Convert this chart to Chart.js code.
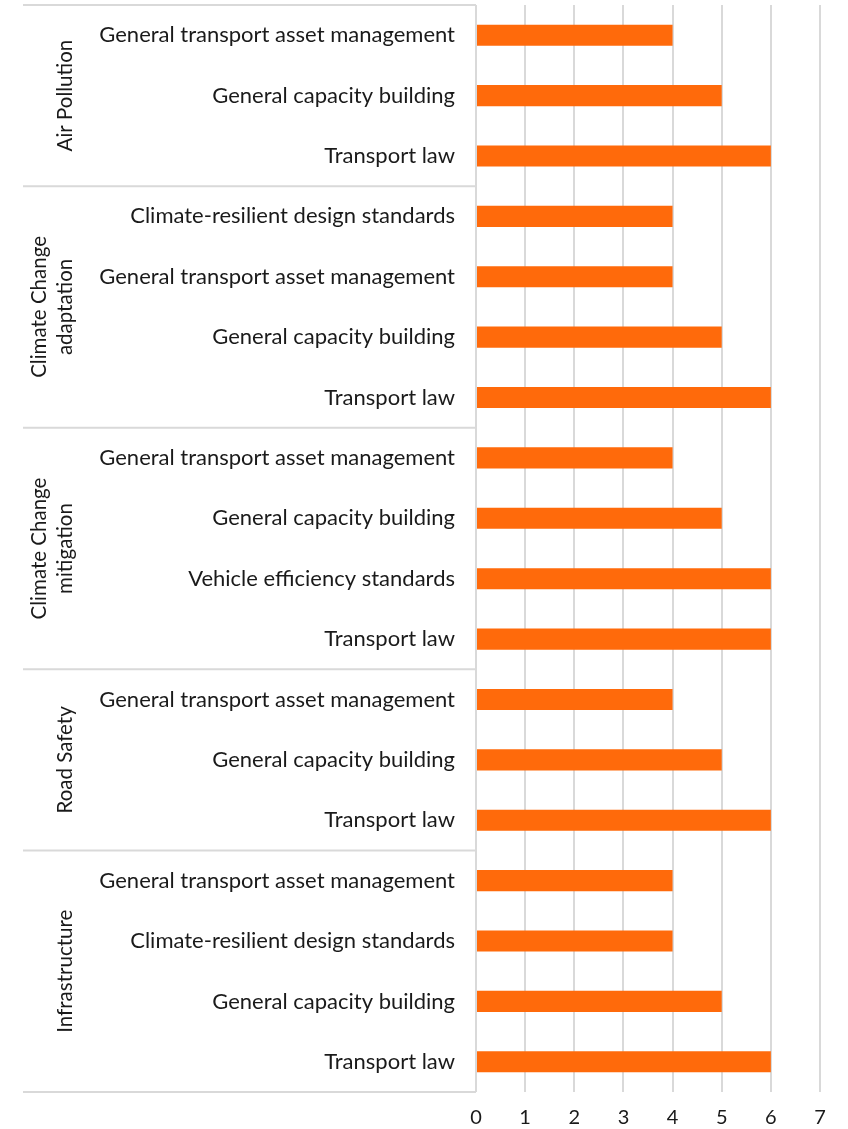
<!DOCTYPE html>
<html>
<head>
<meta charset="utf-8">
<script src="https://cdn.jsdelivr.net/npm/chart.js@4"></script>
<style>
html,body{margin:0;padding:0;background:#fff;}
canvas{display:block;}
</style>
</head>
<body>
<canvas id="c" width="848" height="1129"></canvas>
<script>
const groupLabels = [['Air Pollution'], ['Climate Change','adaptation'], ['Climate Change','mitigation'], ['Road Safety'], ['Infrastructure']];
const groupSizes = [3, 4, 4, 3, 4];
const categories = [
  'General transport asset management','General capacity building','Transport law',
  'Climate-resilient design standards','General transport asset management','General capacity building','Transport law',
  'General transport asset management','General capacity building','Vehicle efficiency standards','Transport law',
  'General transport asset management','General capacity building','Transport law',
  'General transport asset management','Climate-resilient design standards','General capacity building','Transport law'
];
const values = [4,5,6, 4,4,5,6, 4,5,6,6, 4,5,6, 4,4,5,6];
const xTicks = [0,1,2,3,4,5,6,7];

const FONT = 'Lato, "DejaVu Sans", sans-serif';
const LINE = '#d9d9d9';

const groupPlugin = {
  id: 'groups',
  afterDraw(chart) {
    const ctx = chart.ctx;
    const y = chart.scales.y;
    const area = chart.chartArea;
    const n = categories.length;
    const step = (area.bottom - area.top) / n;
    ctx.save();
    ctx.strokeStyle = LINE;
    ctx.lineWidth = 2;
    let idx = 0;
    const bounds = [0];
    groupSizes.forEach(s => { idx += s; bounds.push(idx); });
    bounds.forEach(b => {
      const py = b === n ? area.bottom : (y.getPixelForValue(b) - step / 2);
      ctx.beginPath();
      ctx.moveTo(23, py);
      ctx.lineTo(area.left, py);
      ctx.stroke();
    });
    ctx.fillStyle = '#1a1a1a';
    ctx.font = '20.5px ' + FONT;
    ctx.textAlign = 'center';
    ctx.textBaseline = 'middle';
    for (let g = 0; g < groupLabels.length; g++) {
      const a = y.getPixelForValue(bounds[g]) - step / 2;
      const b = y.getPixelForValue(bounds[g + 1] - 1) + step / 2;
      const cy = (a + b) / 2;
      const lines = groupLabels[g];
      lines.forEach((t, i) => {
        const cx = 65 - (lines.length - 1 - i) * 26;
        ctx.save();
        ctx.translate(cx, cy);
        ctx.rotate(-Math.PI / 2);
        ctx.fillText(t, 0, 0);
        ctx.restore();
      });
    }
    ctx.restore();
  }
};

new Chart(document.getElementById('c'), {
  type: 'bar',
  data: {
    labels: categories,
    datasets: [{
      data: values,
      backgroundColor: '#ff6a0b',
      borderWidth: 0,
      barPercentage: 0.35,
      categoryPercentage: 1
    }]
  },
  options: {
    indexAxis: 'y',
    responsive: false,
    animation: false,
    layout: { padding: { top: 5, right: 28, bottom: 0, left: 0 } },
    plugins: { legend: { display: false }, tooltip: { enabled: false } },
    scales: {
      x: {
        min: 0, max: 7,
        afterBuildTicks(s) { s.ticks = xTicks.map(v => ({ value: v })); },
        grid: { color: LINE, lineWidth: 2, drawTicks: false },
        border: { display: false },
        ticks: { color: '#1a1a1a', font: { family: FONT, size: 20 }, padding: 14 },
        afterFit(s) { s.height = 37; s.paddingLeft = 0; s.paddingRight = 0; s.paddingTop = 0; s.paddingBottom = 0; }
      },
      y: {
        grid: { display: false, drawTicks: false },
        border: { display: false },
        ticks: { color: '#1a1a1a', font: { family: FONT, size: 22 }, padding: 21, autoSkip: false },
        afterFit(s) { s.width = 476; s.paddingTop = 0; s.paddingBottom = 0; s.paddingLeft = 0; s.paddingRight = 0; }
      }
    }
  },
  plugins: [groupPlugin]
});
</script>
</body>
</html>
